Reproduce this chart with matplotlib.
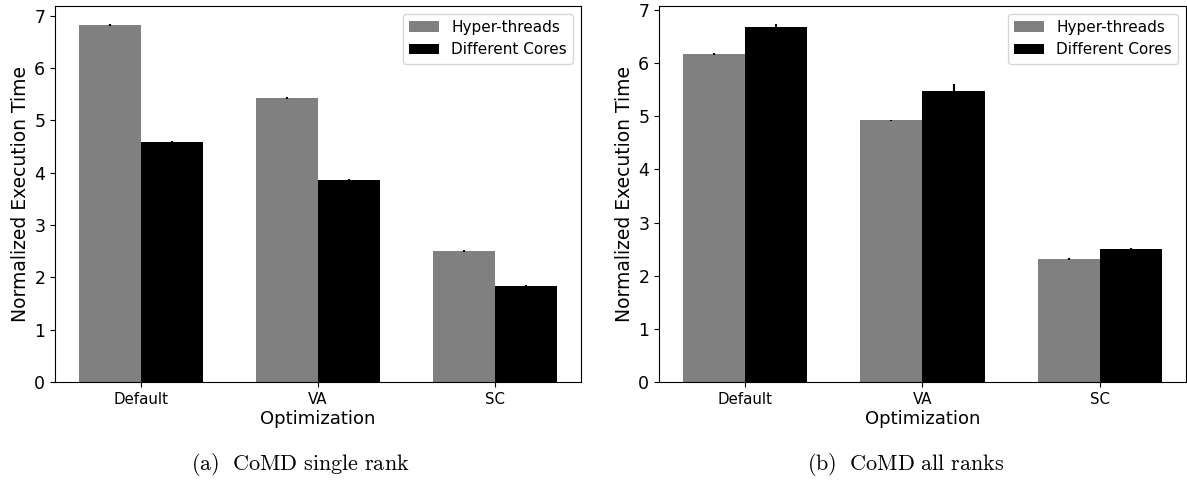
import numpy as np
import matplotlib
matplotlib.use('Agg')
import matplotlib.pyplot as plt

plt.rcParams['mathtext.fontset'] = 'cm'

opts = ['Default', 'VA', 'SC']
series = ['Hyper-threads', 'Different Cores']

# (a) single rank
ht_single = [6.82, 5.42, 2.50]
dc_single = [4.58, 3.85, 1.83]
ht_single_err = [0.02, 0.02, 0.02]
dc_single_err = [0.02, 0.03, 0.02]

# (b) all ranks
ht_all = [6.18, 4.93, 2.31]
dc_all = [6.69, 5.47, 2.51]
ht_all_err = [0.02, 0.01, 0.02]
dc_all_err = [0.05, 0.13, 0.02]

captions = ['(a)\\ \\ CoMD\\ single\\ rank', '(b)\\ \\ CoMD\\ all\\ ranks']

fig = plt.figure(figsize=(11.87, 4.8), dpi=100)
W, H = 1187.0, 480.0
ax1 = fig.add_axes([55 / W, 1 - 382 / H, 526 / W, 376 / H])
ax2 = fig.add_axes([659 / W, 1 - 382 / H, 527 / W, 376 / H])

w = 0.35
x = np.arange(len(opts))
for ax, ht, dc, hte, dce, cap, cx in [
        (ax1, ht_single, dc_single, ht_single_err, dc_single_err, captions[0], 300),
        (ax2, ht_all, dc_all, ht_all_err, dc_all_err, captions[1], 906)]:
    ax.bar(x - w / 2, ht, w, yerr=hte, color='grey', label=series[0],
           error_kw=dict(elinewidth=1.5, ecolor='black'))
    ax.bar(x + w / 2, dc, w, yerr=dce, color='black', label=series[1],
           error_kw=dict(elinewidth=1.5, ecolor='black'))
    ax.set_xticks(x)
    ax.set_xticklabels(opts, fontsize=10.8)
    ax.tick_params(axis='y', labelsize=12.5)
    ax.set_yticks(range(0, 8))
    ax.set_xlabel('Optimization', fontsize=13, labelpad=2)
    ax.set_ylabel('Normalized Execution Time', fontsize=13.5, labelpad=3)
    ax.legend(loc='upper right', fontsize=11)
    fig.text(cx / W, 1 - 465 / H, '$\\mathrm{' + cap + '}$', ha='center', va='center',
             fontsize=16)

fig.savefig('out.png', dpi=100)
